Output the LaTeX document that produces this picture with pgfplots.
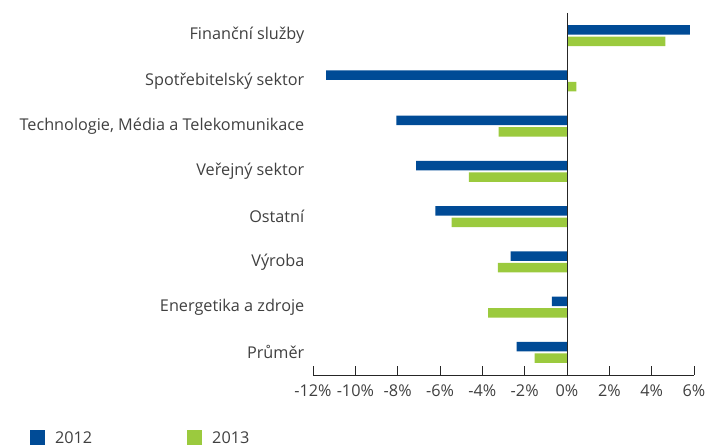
\documentclass[border=0pt]{standalone}
\usepackage{fontspec}
\setmainfont{Open Sans}
\usepackage{pgfplots}
\pgfplotsset{compat=1.18}
\definecolor{c2012}{HTML}{004B96}
\definecolor{c2013}{HTML}{9BCA3E}
\definecolor{txt}{HTML}{404040}

\begin{document}
\begin{tikzpicture}[x=1bp,y=1bp]
\path[use as bounding box] (0,0) rectangle (708,448);
\begin{axis}[
    at={(313bp,73bp)}, anchor=south west,
    scale only axis,
    width=381bp, height=362bp,
    xbar,
    bar width=9.5bp,
    xmin=-12, xmax=6,
    ymin=-0.5, ymax=7.5,
    y dir=reverse,
    axis x line=bottom,
    axis y line=left,
    y axis line style={draw=none},
    x axis line style={-, line width=0.8pt, color=black!85},
    xtick={-12,-10,...,6},
    xticklabels={-12\%,-10\%,-8\%,-6\%,-4\%,-2\%,0\%,2\%,4\%,6\%},
    xtick align=inside,
    major tick length=9bp,
    xtick style={line width=0.8pt, color=black!85},
    ytick={0,...,7},
    yticklabels={Finanční služby,Spotřebitelský sektor,{Technologie, Média a Telekomunikace},Veřejný sektor,Ostatní,Výroba,Energetika a zdroje,Průměr},
    ytick style={draw=none},
    tick label style={font=\fontsize{16.3}{19}\selectfont, color=txt},
    xticklabel style={inner sep=0pt, yshift=-10bp},
    yticklabel style={inner sep=0pt, xshift=-4bp},
    legend style={
        at={(-0.743,-0.174)}, anchor=west,
        legend columns=-1, draw=none, fill=none, inner sep=0pt,
        font=\fontsize{16.3}{19}\selectfont, text=txt,
        /tikz/every even column/.append style={column sep=93bp},
        /tikz/every odd column/.append style={column sep=8bp},
    },
    legend image code/.code={\fill[#1] (0bp,-7.5bp) rectangle (15bp,7.5bp);},
    legend cell align=left,
    clip=false,
]
\addplot[fill=c2012, draw=none, bar shift=5.65bp] coordinates {(5.8,0) (-11.38,1) (-8.06,2) (-7.13,3) (-6.22,4) (-2.66,5) (-0.72,6) (-2.38,7)};
\addlegendentry{2012}
\addplot[fill=c2013, draw=none, bar shift=-5.65bp] coordinates {(4.65,0) (0.44,1) (-3.23,2) (-4.64,3) (-5.45,4) (-3.27,5) (-3.73,6) (-1.53,7)};
\addlegendentry{2013}
\draw[line width=0.8pt, color=black!85] (axis cs:0,-0.5) -- (axis cs:0,7.5);
\end{axis}
\end{tikzpicture}
\end{document}
